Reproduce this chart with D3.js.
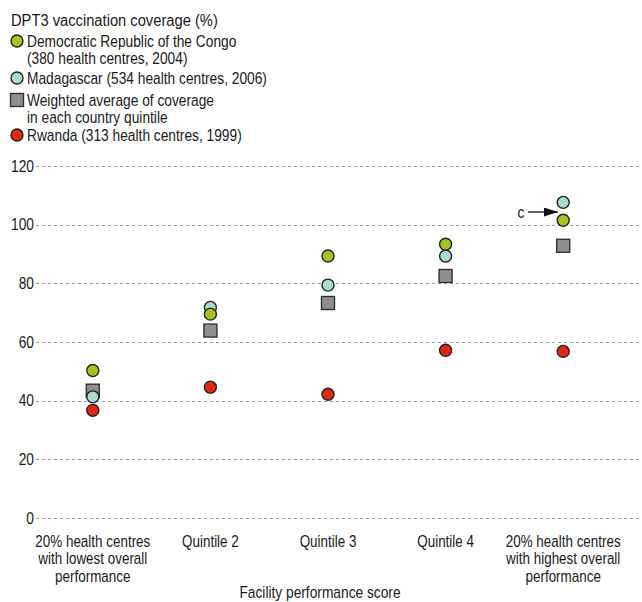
<!DOCTYPE html>
<html lang="en">
<head>
  <meta charset="UTF-8">
  <title>DPT3 coverage</title>
  <style>
    body { margin: 0; background: #fff; }
    svg text {
      font-family: "Liberation Sans", Arial, sans-serif;
      font-size: 16px;
      fill: #1a1a1a;
    }
    .grid line { stroke: #999; stroke-dasharray: 3,3; stroke-width: 1; }
    .tick-label { text-anchor: end; }
    .cat-label { text-anchor: middle; }
  </style>
</head>
<body>
  <script src="https://d3js.org/d3.v7.min.js"></script>
  <script>
    var width = 642, height = 602;

    var categories = [
      ['20% health centres', 'with lowest overall', 'performance'],
      ['Quintile 2'],
      ['Quintile 3'],
      ['Quintile 4'],
      ['20% health centres', 'with highest overall', 'performance']
    ];
    var yTicks = [0, 20, 40, 60, 80, 100, 120];

    var drc = [50.3, 69.5, 89.3, 93.3, 101.5];
    var madagascar = [41.3, 71.8, 79.4, 89.3, 107.6];
    var weighted = [43.4, 63.9, 73.3, 82.5, 92.8];
    var rwanda = [36.7, 44.6, 42.2, 57.2, 56.8];

    var series = [
      { name: 'weighted', values: weighted, shape: 'square', color: '#8f8f8f' },
      { name: 'madagascar', values: madagascar, shape: 'circle', color: '#a9ddd4' },
      { name: 'drc', values: drc, shape: 'circle', color: '#a5c41f' },
      { name: 'rwanda', values: rwanda, shape: 'circle', color: '#e2290f' }
    ];

    var legend = [
      { lines: ['Democratic Republic of the Congo', '(380 health centres, 2004)'], shape: 'circle', color: '#a5c41f' },
      { lines: ['Madagascar (534 health centres, 2006)'], shape: 'circle', color: '#a9ddd4' },
      { lines: ['Weighted average of coverage', 'in each country quintile'], shape: 'square', color: '#8f8f8f' },
      { lines: ['Rwanda (313 health centres, 1999)'], shape: 'circle', color: '#e2290f' }
    ];

    var svg = d3.select('body').append('svg')
      .attr('width', width)
      .attr('height', height);

    var x = d3.scaleBand()
      .domain(d3.range(categories.length))
      .range([34, 622]);

    var y = d3.scaleLinear()
      .domain([0, 120])
      .range([518, 166]);

    // narrow type: regular font squeezed horizontally
    function narrow(tx, ty, s) {
      return 'translate(' + tx + ',' + ty + ') scale(' + s + ',1)';
    }

    // grid
    var grid = svg.append('g').attr('class', 'grid');
    grid.selectAll('line')
      .data(yTicks)
      .enter().append('line')
      .attr('x1', 36)
      .attr('x2', width)
      .attr('y1', function(d) { return Math.round(y(d)) + 0.5; })
      .attr('y2', function(d) { return Math.round(y(d)) + 0.5; });

    svg.selectAll('.tick-label')
      .data(yTicks)
      .enter().append('text')
      .attr('class', 'tick-label')
      .attr('transform', function(d) { return narrow(34, y(d), 0.86); })
      .attr('dy', '0.36em')
      .text(function(d) { return d; });

    // category labels
    svg.selectAll('.cat-label')
      .data(categories)
      .enter().append('text')
      .attr('class', 'cat-label')
      .attr('transform', function(d, i) {
        return narrow(x(i) + x.bandwidth() / 2, 547, 0.84);
      })
      .selectAll('tspan')
      .data(function(d) { return d; })
      .enter().append('tspan')
      .attr('x', 0)
      .attr('y', function(d, i) { return i * 17.5; })
      .text(function(d) { return d; });

    svg.append('text')
      .attr('class', 'cat-label')
      .attr('transform', narrow(320, 598, 0.86))
      .text('Facility performance score');

    function drawMark(g, shape, color, cx, cy) {
      if (shape === 'square') {
        g.append('rect')
          .attr('x', cx - 6.5)
          .attr('y', cy - 6.5)
          .attr('width', 13)
          .attr('height', 13)
          .attr('fill', color)
          .attr('stroke', '#333')
          .attr('stroke-width', 1.4);
      } else {
        g.append('circle')
          .attr('cx', cx)
          .attr('cy', cy)
          .attr('r', 6)
          .attr('fill', color)
          .attr('stroke', '#222')
          .attr('stroke-width', 1.4);
      }
    }

    // points
    var marks = svg.append('g');
    series.forEach(function(s) {
      s.values.forEach(function(v, i) {
        drawMark(marks, s.shape, s.color, x(i) + x.bandwidth() / 2, y(v));
      });
    });

    // annotation "c"
    svg.append('defs').append('marker')
      .attr('id', 'arrow')
      .attr('viewBox', '0 0 10 10')
      .attr('preserveAspectRatio', 'none')
      .attr('refX', 10)
      .attr('refY', 5)
      .attr('markerWidth', 14)
      .attr('markerHeight', 9)
      .attr('markerUnits', 'userSpaceOnUse')
      .attr('orient', 'auto')
      .append('path')
      .attr('d', 'M0,0L10,5L0,10Z')
      .attr('fill', '#111');

    svg.append('text')
      .attr('transform', narrow(521, 212, 0.86))
      .attr('dy', '0.36em')
      .attr('text-anchor', 'middle')
      .text('c');

    svg.append('line')
      .attr('x1', 528)
      .attr('x2', 558)
      .attr('y1', 212)
      .attr('y2', 212)
      .attr('stroke', '#111')
      .attr('stroke-width', 1.3)
      .attr('marker-end', 'url(#arrow)');

    // legend
    svg.append('text')
      .attr('transform', narrow(11, 26, 0.92))
      .text('DPT3 vaccination coverage (%)');

    var legendY = [41, 78, 100, 135];
    legend.forEach(function(item, i) {
      var g = svg.append('g');
      drawMark(g, item.shape, item.color, 17, legendY[i]);
      var t = g.append('text')
        .attr('transform', narrow(27, legendY[i], 0.86))
        .attr('dy', '0.36em');
      t.selectAll('tspan')
        .data(item.lines)
        .enter().append('tspan')
        .attr('x', 0)
        .attr('dy', function(d, j) { return j === 0 ? '0.36em' : 17; })
        .text(function(d) { return d; });
    });
  </script>
</body>
</html>
